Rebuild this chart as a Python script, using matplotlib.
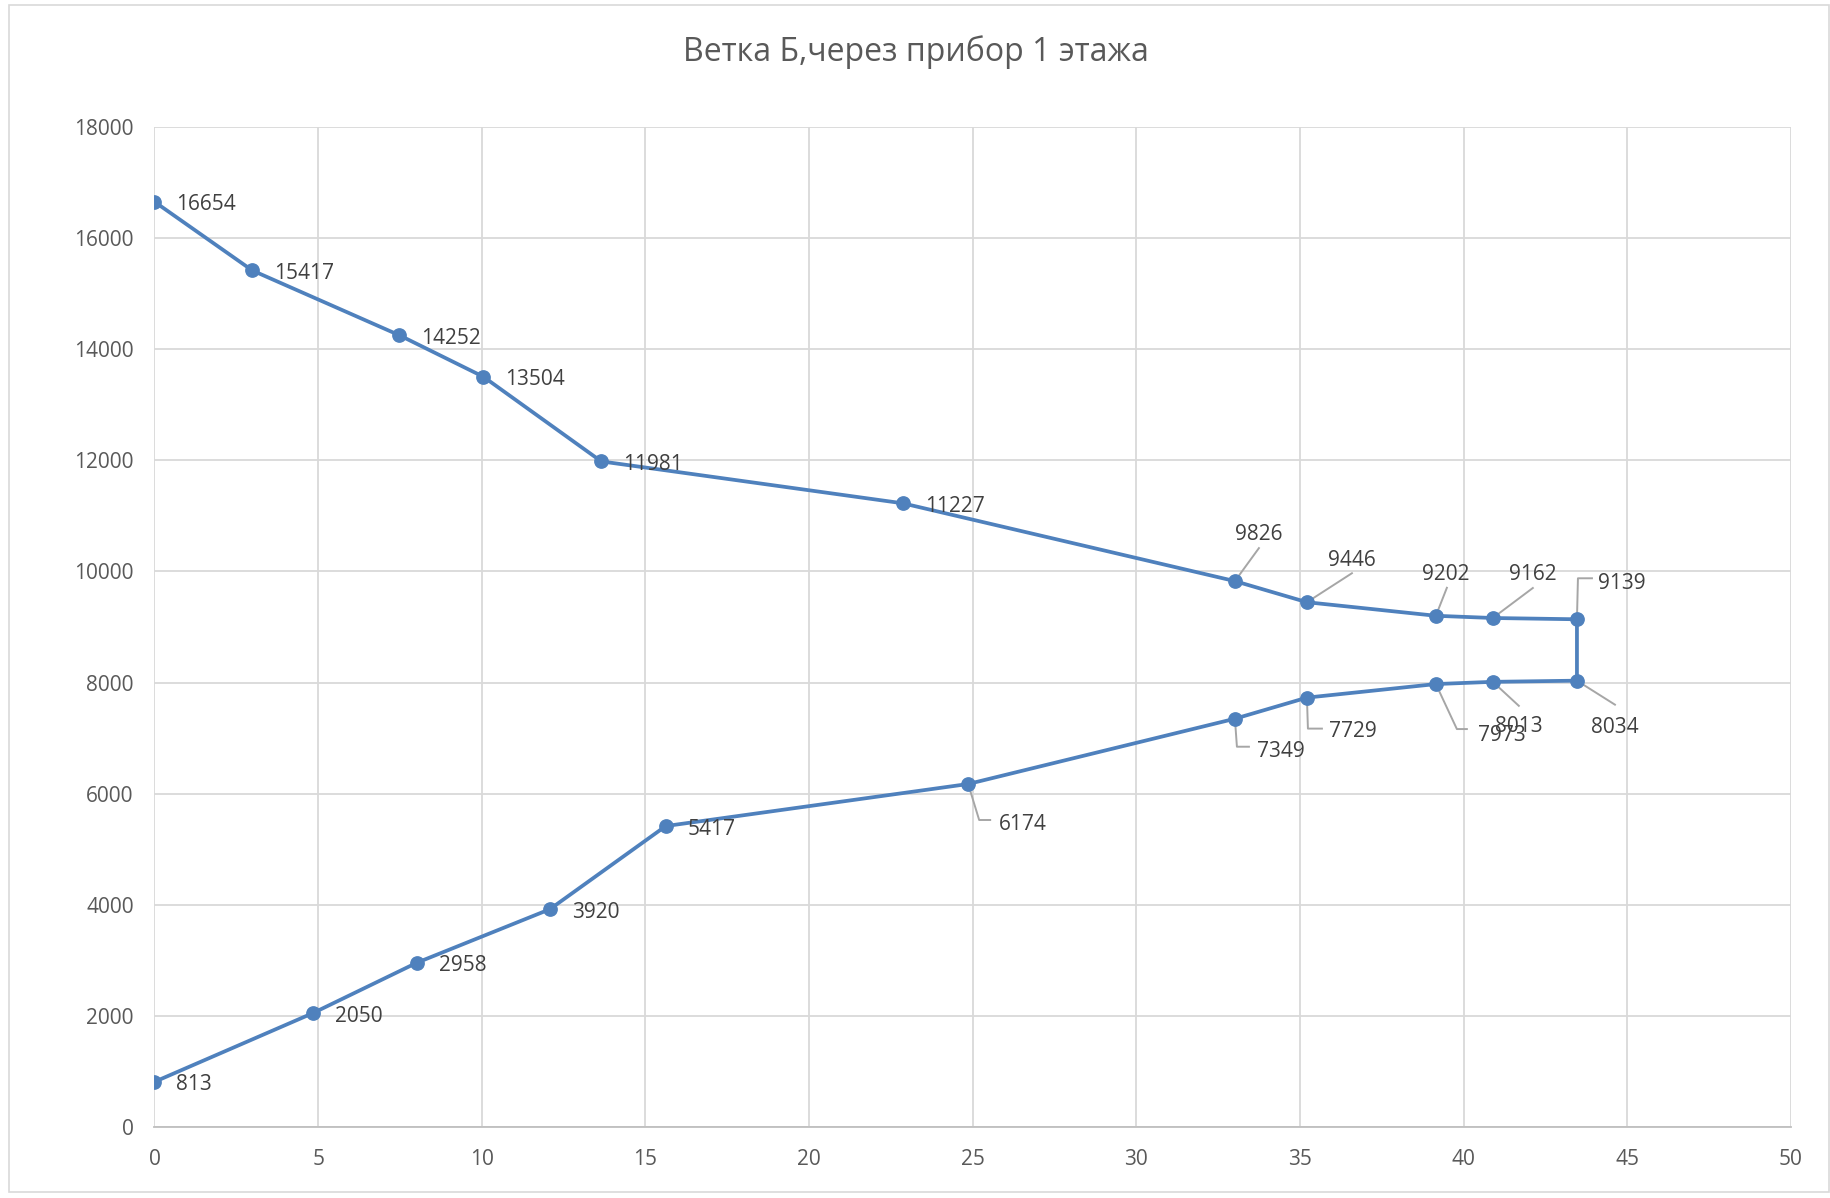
import matplotlib
matplotlib.use("Agg")
import matplotlib.pyplot as plt
from matplotlib import transforms as mtransforms
from matplotlib.lines import Line2D
from matplotlib.patches import Rectangle

plt.rcParams['font.family'] = ['Open Sans', 'DejaVu Sans']

# --- data -------------------------------------------------------------
title = "Ветка Б,через прибор 1 этажа"
supply_x = [0, 2.99, 7.48, 10.05, 13.65, 22.86, 33.01, 35.21, 39.15, 40.89, 43.46]
supply_p = [16654, 15417, 14252, 13504, 11981, 11227, 9826, 9446, 9202, 9162, 9139]
return_x = [43.46, 40.89, 39.15, 35.21, 33.01, 24.86, 15.62, 12.08, 8.02, 4.84, 0]
return_p = [8034, 8013, 7973, 7729, 7349, 6174, 5417, 3920, 2958, 2050, 813]
x_ticks = list(range(0, 51, 5))
y_ticks = list(range(0, 18001, 2000))

# --- styling ----------------------------------------------------------
LINE_COLOR = "#4F81BD"
GRID_COLOR = "#D9D9D9"
TEXT_COLOR = "#404040"
TICK_COLOR = "#595959"
LEADER_COLOR = "#A6A6A6"

DPI = 100
W, H = 1831, 1198
fig = plt.figure(figsize=(W / DPI, H / DPI), dpi=DPI)
fig.patches.append(Rectangle((9 / W, 6 / H), (1829 - 9) / W, (1193 - 6) / H,
                             transform=fig.transFigure, fill=False,
                             edgecolor=GRID_COLOR, linewidth=1.2))

ax = fig.add_axes([154.5 / W, 1 - 1127 / H, (1791 - 154.5) / W, (1127 - 127) / H])

path_x = supply_x + return_x
path_p = supply_p + return_p
ax.plot(path_x, path_p, color=LINE_COLOR, linewidth=2.7, marker="o",
        markersize=9.6, markerfacecolor=LINE_COLOR, markeredgecolor=LINE_COLOR,
        zorder=4, solid_joinstyle="round")

ax.set_xlim(0, 50)
ax.set_ylim(0, 18000)
ax.set_xticks(x_ticks)
ax.set_yticks(y_ticks)
ax.grid(True, color=GRID_COLOR, linewidth=1.3)
ax.set_axisbelow(True)
for side in ("top", "right", "left"):
    ax.spines[side].set_visible(False)
ax.spines["bottom"].set_color("#BFBFBF")
ax.spines["bottom"].set_linewidth(1.3)
ax.tick_params(length=0, labelsize=15, labelcolor=TICK_COLOR)
ax.tick_params(axis="y", pad=15)
ax.tick_params(axis="x", pad=16)

fig.text(0.5, 1 - 52 / H, title, ha="center", va="center",
         fontsize=23, color=TICK_COLOR)

# Callouts with leader lines (pixel offsets from the marker)
leaders = {
    9826: ([(0, 0), (24, 33)], (24, 47), "center"),
    9446: ([(0, 0), (45, 29)], (45, 42), "center"),
    9202: ([(0, 0), (11, 28)], (10, 41), "center"),
    9162: ([(0, 0), (40, 30)], (40, 43), "center"),
    9139: ([(0, 0), (1, 41), (15, 41)], (21, 36), "left"),
    8034: ([(0, 0), (38, -24)], (38, -47), "center"),
    8013: ([(0, 0), (26, -24)], (26, -45), "center"),
    7973: ([(0, 0), (21, -45), (31, -45)], (42, -51), "left"),
    7729: ([(0, 0), (1, -31), (15, -31)], (22, -34), "left"),
    7349: ([(0, 0), (2, -28), (14, -28)], (22, -33), "left"),
    6174: ([(0, 0), (11, -36), (22, -36)], (31, -40), "left"),
}

for x, p in zip(path_x, path_p):
    if p in leaders:
        pts, (tx, ty), ha = leaders[p]
        trans = mtransforms.IdentityTransform() + mtransforms.ScaledTranslation(x, p, ax.transData)
        ax.add_line(Line2D([q[0] for q in pts], [q[1] for q in pts],
                           transform=trans, color=LEADER_COLOR, linewidth=1.4,
                           zorder=3, clip_on=False))
    else:
        tx, ty, ha = 22, -3, "left"
    ax.annotate(f"{p}", (x, p), xytext=(tx, ty), textcoords="offset pixels",
                ha=ha, va="center", fontsize=15, color=TEXT_COLOR, zorder=5,
                annotation_clip=False)

fig.savefig("out.png", dpi=DPI, facecolor="white")
